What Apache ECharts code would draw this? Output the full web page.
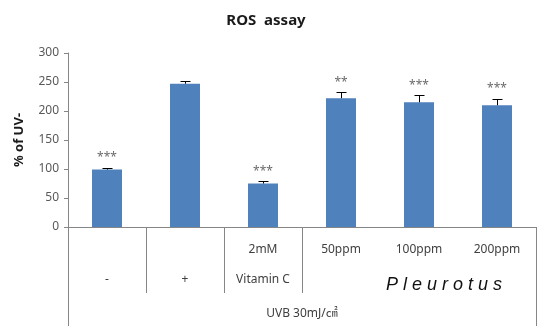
<!DOCTYPE html>
<html><head><meta charset="utf-8">
<script src="https://cdn.jsdelivr.net/npm/echarts@6/dist/echarts.min.js"></script>
<style>html,body{margin:0;padding:0;background:#fff}#c{width:542px;height:329px}</style>
</head><body><div id="c"></div>
<script>
const categories = ['-', '+', 'Vitamin C', '50ppm', '100ppm', '200ppm'];
const row1Labels = ['', '', '2mM', '50ppm', '100ppm', '200ppm'];
const row2Labels = ['-', '+', 'Vitamin C', '', '', ''];
const values = [99, 247, 75, 222, 215, 210];
const errors = [3, 5, 4, 10, 12, 11];
const stars = ['***', '', '***', '**', '***', '***'];
const yTicks = [0, 50, 100, 150, 200, 250, 300];

const G = {left: 68, right: 6, top: 53, bottom: 102};
const W = 542, H = 329;
const chart = echarts.init(document.getElementById('c'), null, {renderer: 'canvas'});
const font = '"Noto Sans", "Open Sans", sans-serif';
const axisGray = '#868686';

const plotW = W - G.left - G.right;
const axisY = H - G.bottom;
const catW = plotW / categories.length;
const lines = [];
[0, categories.length].forEach(i => {
  const x = Math.round(G.left + i * catW) + 0.5;
  lines.push({type: 'line', shape: {x1: x, y1: axisY, x2: x, y2: 326}, style: {stroke: axisGray, lineWidth: 1}, silent: true});
});
[1, 2, 3].forEach(i => {
  const x = Math.round(G.left + i * catW) + 0.5;
  lines.push({type: 'line', shape: {x1: x, y1: axisY, x2: x, y2: 293}, style: {stroke: axisGray, lineWidth: 1}, silent: true});
});

chart.setOption({
  animation: false,
  backgroundColor: '#fff',
  title: {
    text: 'ROS  assay', left: 261, top: 8, textAlign: 'center',
    textStyle: {fontFamily: font, fontSize: 15, fontWeight: 'bold', color: '#1a1a1a'}
  },
  grid: {left: G.left, right: G.right, top: G.top, bottom: G.bottom, containLabel: false},
  xAxis: [{
    type: 'category', data: categories, position: 'bottom',
    axisLine: {show: true, lineStyle: {color: axisGray, width: 1}},
    axisTick: {show: false},
    axisLabel: {margin: 17, fontFamily: font, fontSize: 12, color: '#404040', formatter: (v, i) => row1Labels[i], interval: 0}
  }, {
    type: 'category', data: categories, position: 'bottom',
    axisLine: {show: false}, axisTick: {show: false},
    axisLabel: {margin: 47, fontFamily: font, fontSize: 12, color: '#404040', formatter: (v, i) => row2Labels[i], interval: 0}
  }],
  yAxis: {
    type: 'value', min: yTicks[0], max: yTicks[yTicks.length - 1], interval: 50,
    name: '% of UV-', nameLocation: 'middle', nameGap: 42, nameRotate: 90,
    nameTextStyle: {fontFamily: font, fontSize: 13, fontWeight: 'bold', color: '#1a1a1a'},
    axisLine: {show: true, lineStyle: {color: axisGray, width: 1}},
    axisTick: {show: true, length: 4, lineStyle: {color: axisGray}},
    axisLabel: {margin: 9, fontFamily: font, fontSize: 12, color: '#595959'},
    splitLine: {show: false}
  },
  series: [{
    type: 'bar', data: values, barWidth: 30,
    itemStyle: {color: '#4F81BD'}
  }, {
    type: 'custom',
    data: values.map((v, i) => [i, v, errors[i]]),
    renderItem: (params, api) => {
      const i = api.value(0), v = api.value(1), e = api.value(2);
      const top = api.coord([i, v + e]);
      const bot = api.coord([i, v]);
      const x = Math.round(top[0]) + 0.5;
      const ty = Math.round(top[1]) + 0.5;
      return {type: 'group', children: [
        {type: 'line', shape: {x1: x, y1: ty, x2: x, y2: bot[1]}, style: {stroke: '#000', lineWidth: 1}},
        {type: 'line', shape: {x1: x - 5, y1: ty, x2: x + 5, y2: ty}, style: {stroke: '#000', lineWidth: 1}}
      ]};
    },
    z: 3
  }, {
    type: 'scatter', symbolSize: 0,
    data: values.map((v, i) => [i, v + errors[i]]),
    label: {
      show: true, position: 'top', distance: 4,
      formatter: p => stars[p.dataIndex],
      fontFamily: font, fontSize: 12, color: '#444'
    },
    z: 4
  }],
  graphic: lines.concat([
    {type: 'text', left: 386, top: 276,
     style: {text: 'P l e u r o t u s', font: 'italic 18px "Liberation Sans", Arial, sans-serif', fill: '#111'}},
    {type: 'text', x: G.left + plotW / 2, y: 314,
     style: {text: 'UVB 30mJ/㎠', font: '12px "Noto Sans", "Noto Sans CJK KR", sans-serif', fill: '#404040', align: 'center', verticalAlign: 'middle'}}
  ])
});
</script></body></html>
